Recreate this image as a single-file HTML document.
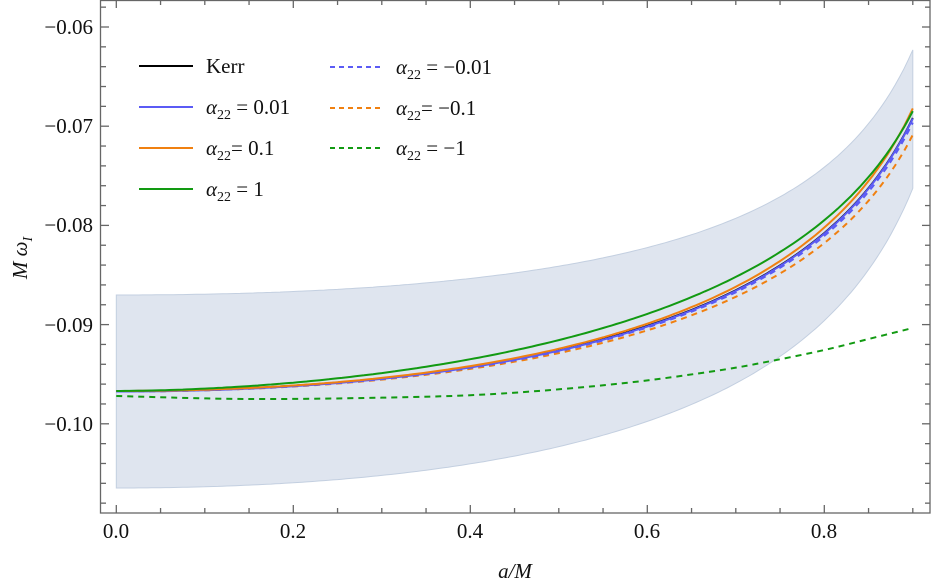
<!DOCTYPE html>
<html><head><meta charset="utf-8"><style>
html,body{margin:0;padding:0;background:#fff;}
svg{display:block;}
text{font-family:"Liberation Serif","DejaVu Serif",serif;}
</style></head><body>
<svg id="s" width="931" height="584" viewBox="0 0 931 584" xmlns="http://www.w3.org/2000/svg" font-family="Liberation Serif, serif">
<defs><clipPath id="c"><rect x="101" y="0" width="829" height="513"/></clipPath></defs>
<g id="plot" clip-path="url(#c)"></g>
<g id="frame" stroke="#666" stroke-width="1.3" fill="none"></g>
<g font-size="21" fill="#111" text-anchor="end">
<text x="93" y="34">−0.06</text>
<text x="93" y="133">−0.07</text>
<text x="93" y="232">−0.08</text>
<text x="93" y="332">−0.09</text>
<text x="93" y="431">−0.10</text>
</g>
<g font-size="21" fill="#111" text-anchor="middle">
<text x="116" y="538">0.0</text>
<text x="293" y="538">0.2</text>
<text x="470" y="538">0.4</text>
<text x="647" y="538">0.6</text>
<text x="824" y="538">0.8</text>
</g>
<text x="515" y="578" font-size="21" font-style="italic" text-anchor="middle" fill="#111">a/M</text>
<text transform="translate(27,258) rotate(-90)" font-size="21" font-style="italic" text-anchor="middle" fill="#111">M ω<tspan font-size="14" dy="5">I</tspan></text>
<g font-size="21" fill="#111">
<line x1="139" y1="66" x2="193" y2="66" stroke="#000" stroke-width="2"/>
<text x="206" y="73">Kerr</text>
<line x1="139" y1="107" x2="193" y2="107" stroke="#5b5bf5" stroke-width="2"/>
<text x="206" y="114"><tspan font-style="italic">α</tspan><tspan font-size="14" dy="5">22</tspan><tspan dy="-5"> = 0.01</tspan></text>
<line x1="139" y1="148" x2="193" y2="148" stroke="#f08010" stroke-width="2"/>
<text x="206" y="155"><tspan font-style="italic">α</tspan><tspan font-size="14" dy="5">22</tspan><tspan dy="-5">= 0.1</tspan></text>
<line x1="139" y1="189" x2="193" y2="189" stroke="#129a12" stroke-width="2"/>
<text x="206" y="196"><tspan font-style="italic">α</tspan><tspan font-size="14" dy="5">22</tspan><tspan dy="-5"> = 1</tspan></text>
<line x1="330" y1="67" x2="380" y2="67" stroke="#5b5bf5" stroke-width="2" stroke-dasharray="5,4"/>
<text x="396" y="74"><tspan font-style="italic">α</tspan><tspan font-size="14" dy="5">22</tspan><tspan dy="-5"> = −0.01</tspan></text>
<line x1="330" y1="108" x2="380" y2="108" stroke="#f08010" stroke-width="2" stroke-dasharray="5,4"/>
<text x="396" y="115"><tspan font-style="italic">α</tspan><tspan font-size="14" dy="5">22</tspan><tspan dy="-5">= −0.1</tspan></text>
<line x1="330" y1="148" x2="380" y2="148" stroke="#129a12" stroke-width="2" stroke-dasharray="5,4"/>
<text x="396" y="155"><tspan font-style="italic">α</tspan><tspan font-size="14" dy="5">22</tspan><tspan dy="-5"> = −1</tspan></text>
</g>
</svg>
<script>
var NS="http://www.w3.org/2000/svg";
function el(t,a,par){var e=document.createElementNS(NS,t);for(var k in a)e.setAttribute(k,a[k]);(par||document.getElementById("plot")).appendChild(e);return e;}
function X(a){return 116.3+885*a;}
function sample(fn){var s=[];for(var i=0;i<=180;i++){var a=0.9*i/180;s.push(X(a).toFixed(1)+","+fn(a).toFixed(1));}return s;}
function kD(a){return 119.6*a*a/Math.pow(1-a,0.45);}
var kerr=function(a){return 391-kD(a);};
var green=function(a){return 391-(0.9*kD(a)+40*Math.pow(a,1.5));};
var oS=function(a){return 391-1.035*kD(a);};
var oD=function(a){return 391.5-0.94*kD(a)+2*Math.sin(Math.PI*a/0.9)*0;};
var bS=function(a){return 391-kD(a)+0.5;};
var bD=function(a){return 391.5-0.985*kD(a);};
var tp=function(a){return 295-76*a*a/Math.pow(1-a,0.6);};
var bt=function(a){return 488-117*a*a/Math.pow(1-a,0.5);};
// green dashed via catmull-rom
var gdp=[[0,396],[.15,399],[.32,397.3],[.436,393.5],[.57,383.5],[.68,370.5],[.74,361],[.8,350],[.85,339],[.9,328]];
function cr(p){var d="M"+X(p[0][0])+","+p[0][1];for(var i=0;i<p.length-1;i++){var p0=p[i-1]||p[i],p1=p[i],p2=p[i+1],p3=p[i+2]||p2;
function P(q){return [X(q[0]),q[1]];}var a0=P(p0),a1=P(p1),a2=P(p2),a3=P(p3);
d+=" C"+(a1[0]+(a2[0]-a0[0])/6)+","+(a1[1]+(a2[1]-a0[1])/6)+" "+(a2[0]-(a3[0]-a1[0])/6)+","+(a2[1]-(a3[1]-a1[1])/6)+" "+a2[0]+","+a2[1];}return d;}
var T=sample(tp),B=sample(bt).reverse();
el("path",{d:"M"+T.join(" L")+" L"+B.join(" L")+" Z",fill:"#dfe5ef",stroke:"#c3cfe0","stroke-width":1});
function line(fn,col,dash){var a={d:"M"+sample(fn).join(" L"),fill:"none",stroke:col,"stroke-width":2,"stroke-linejoin":"round"};if(dash)a["stroke-dasharray"]="6,5";el("path",a);}
line(oD,"#f08010",1);
line(bD,"#5b5bf5",1);
line(kerr,"#000");
line(bS,"#5b5bf5");
line(oS,"#f08010");
line(green,"#129a12");
el("path",{d:cr(gdp),fill:"none",stroke:"#129a12","stroke-width":2,"stroke-dasharray":"6,5"});
var f=document.getElementById("frame");
el("rect",{x:100.5,y:0.5,width:829.5,height:512.5},f);
for(var i=0;i<=19;i++){var x=116.3+44.25*i;if(x>929)break;var L=(i%4==0)?8:5;
el("line",{x1:x,y1:513,x2:x,y2:513-L},f);el("line",{x1:x,y1:0,x2:x,y2:L},f);}
for(var v=-0.108;v<=-0.0579;v+=0.002){var y=27+(-0.06-v)*9920;if(y<1||y>512)continue;var mm=Math.abs(Math.round(v*1000)%10)==0;var L=mm?8:5;
el("line",{x1:101,y1:y,x2:101+L,y2:y},f);el("line",{x1:930,y1:y,x2:930-L,y2:y},f);}
</script>
</body></html>
